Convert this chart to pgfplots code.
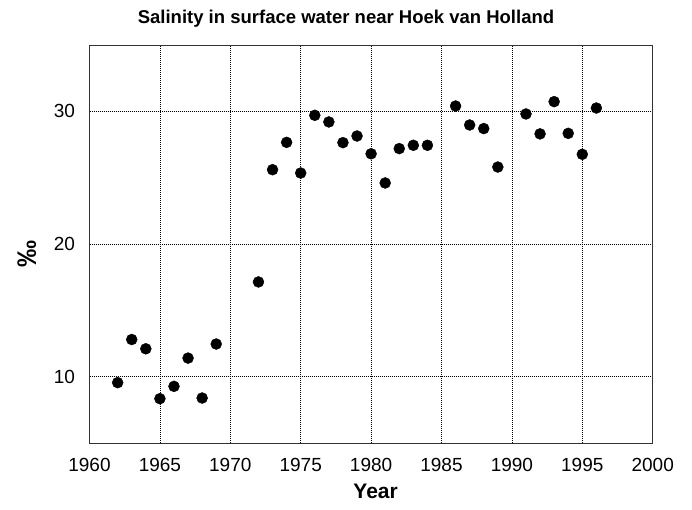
\documentclass[border=0pt]{standalone}
\usepackage{pgfplots}
\pgfplotsset{compat=1.18}
\usepackage{fontspec}
\setmainfont{Liberation Sans}
\begin{document}
\begin{tikzpicture}
\begin{axis}[
  name=ax,
  scale only axis,
  width=563.2pt, height=398pt,
  xmin=1960, xmax=2000, ymin=5, ymax=35,
  xtick={1960,1965,...,2000},
  ytick={10,20,30},
  /pgf/number format/1000 sep={},
  /pgf/number format/assume math mode=true,
  tick label style={font=\fontsize{19}{19}\selectfont},
  x tick label style={yshift=-7pt},
  y tick label style={xshift=-6pt},
  tick align=outside,
  major tick length=5pt,
  tick style={draw=none},
  xtick pos=bottom, ytick pos=left,
  axis line style={black!80, line width=0.9pt},
  grid=major,
  major grid style={black, line width=0.7pt, dash pattern=on 1pt off 1pt},
  title={Salinity in surface water near Hoek van Holland},
  title style={at={(0.4554,1.0503)}, anchor=center, font=\bfseries\fontsize{18.5}{18.5}\selectfont},
  xlabel={Year},
  xlabel style={at={(0.508,-0.1206)}, anchor=center, font=\bfseries\fontsize{21}{21}\selectfont},
  ylabel={‰},
  ylabel style={at={(-0.111,0.475)}, anchor=center, font=\bfseries\fontsize{27}{27}\selectfont},
  clip=false,
]
\addplot[only marks, mark=*, mark size=5.5pt, black, mark options={fill=black}] coordinates {
(1962,9.55) (1963,12.8) (1964,12.1) (1965,8.34) (1966,9.27) (1967,11.4)
(1968,8.39) (1969,12.46) (1972,17.14) (1973,25.6) (1974,27.66) (1975,25.35)
(1976,29.7) (1977,29.2) (1978,27.64) (1979,28.14) (1980,26.8) (1981,24.6)
(1982,27.19) (1983,27.44) (1984,27.44) (1986,30.4) (1987,28.97) (1988,28.7)
(1989,25.8) (1991,29.8) (1992,28.3) (1993,30.73) (1994,28.34) (1995,26.76)
(1996,30.25)
};
\end{axis}
\pgfresetboundingbox
\path ([shift={(-89.5pt,-67pt)}]ax.south west) rectangle ([shift={(39.3pt,45pt)}]ax.north east);
\end{tikzpicture}
\end{document}
